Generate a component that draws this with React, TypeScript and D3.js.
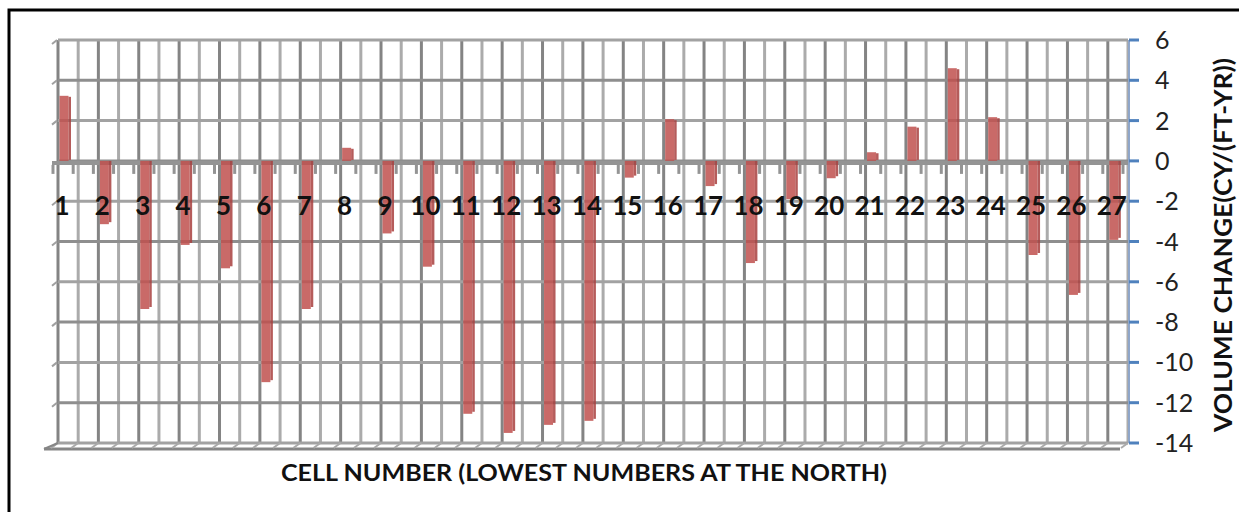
import React, { useEffect, useRef } from 'react';
import * as d3 from 'd3';

// cell numbers along the bottom (lowest numbers at the north)
const cells = ['1', '2', '3', '4', '5', '6', '7', '8', '9', '10', '11', '12', '13', '14',
  '15', '16', '17', '18', '19', '20', '21', '22', '23', '24', '25', '26', '27'];

// volume change cy/(ft-yr)
const volumeChange = [3.23, -3.14, -7.35, -4.17, -5.33, -10.98, -7.35, 0.65, -3.6, -5.25,
  -12.55, -13.5, -13.1, -12.9, -0.83, 2.07, -1.25, -5.07, -1.9, -0.86,
  0.43, 1.7, 4.6, 2.17, -4.67, -6.65, -3.92];

const yTicks = [6, 4, 2, 0, -2, -4, -6, -8, -10, -12, -14];

const W = 1239;
const H = 512;
const FONT = "Lato, 'Open Sans', sans-serif";

export default function App() {
  const ref = useRef<SVGSVGElement>(null);

  useEffect(() => {
    const svg = d3.select(ref.current);
    svg.selectAll('*').remove();

    const left = 58, right = 1128, top = 40, bottom = 443;
    const step = (right - left) / 26.5; // last column sits partly behind the back wall

    const x = d3.scaleBand<string>().domain(cells).range([left, left + step * cells.length]);
    const y = d3.scaleLinear().domain([-14, 6]).range([bottom, top]);
    const bw = x.bandwidth();

    svg.append('rect').attr('width', W).attr('height', H).attr('fill', '#fff');
    // outer frame
    svg.append('rect')
      .attr('x', 9).attr('y', 10).attr('width', W + 10).attr('height', H + 10)
      .attr('fill', 'none').attr('stroke', '#000').attr('stroke-width', 3);

    // vertical grid: dark at each cell, light halfway
    const vlines: { x: number; dark: boolean }[] = [];
    cells.forEach((c) => {
      vlines.push({ x: x(c)!, dark: true });
      if (x(c)! + bw / 2 <= right + 1) vlines.push({ x: x(c)! + bw / 2, dark: false });
    });
    svg.append('g').selectAll('line').data(vlines).enter().append('line')
      .attr('x1', (d) => d.x).attr('x2', (d) => d.x)
      .attr('y1', top).attr('y2', bottom)
      .attr('stroke', (d) => (d.dark ? '#848484' : '#ababab'))
      .attr('stroke-width', 3);

    // horizontal grid
    svg.append('g').selectAll('line').data(yTicks).enter().append('line')
      .attr('x1', left).attr('x2', right)
      .attr('y1', (d) => y(d)).attr('y2', (d) => y(d))
      .attr('stroke', (d, i) => (i % 2 ? '#8e8e8e' : '#a2a2a2'))
      .attr('stroke-width', 3);

    // little slanted ticks on the left edge
    svg.append('g').selectAll('line').data(yTicks.filter((t) => t !== 0)).enter().append('line')
      .attr('x1', left - 6).attr('x2', left - 1)
      .attr('y1', (d) => y(d) + 4).attr('y2', (d) => y(d))
      .attr('stroke', '#a0a0a0').attr('stroke-width', 2);

    // floor
    svg.append('line').attr('x1', left - 14).attr('x2', right - 8)
      .attr('y1', bottom + 6).attr('y2', bottom + 6)
      .attr('stroke', '#868686').attr('stroke-width', 3);
    svg.append('g').selectAll('line').data(vlines).enter().append('line')
      .attr('x1', (d) => d.x).attr('x2', (d) => d.x - 7)
      .attr('y1', bottom).attr('y2', bottom + 5)
      .attr('stroke', '#aaa').attr('stroke-width', 2);
    svg.append('line').attr('x1', left - 14).attr('x2', left)
      .attr('y1', bottom + 6).attr('y2', bottom)
      .attr('stroke', '#868686').attr('stroke-width', 2);

    // category axis at zero
    const y0 = y(0);
    svg.append('line').attr('x1', left - 6).attr('x2', right)
      .attr('y1', y0 + 2).attr('y2', y0 + 2)
      .attr('stroke', '#949494').attr('stroke-width', 4);
    svg.append('g').selectAll('line').data(vlines).enter().append('line')
      .attr('x1', (d) => d.x - 5).attr('x2', (d) => d.x - 5)
      .attr('y1', y0 + 4).attr('y2', y0 + 13)
      .attr('stroke', '#949494').attr('stroke-width', 3);

    // bars (3d-ish: front face + darker side)
    const bars = svg.append('g').selectAll('g').data(volumeChange).enter().append('g');
    bars.append('rect')
      .attr('x', (_, i) => x(cells[i])! + 1.5)
      .attr('width', 9)
      .attr('y', (d) => Math.min(y(d), y0))
      .attr('height', (d) => Math.abs(y(d) - y0))
      .attr('fill', '#c0504d').attr('fill-opacity', 0.85);
    bars.append('rect')
      .attr('x', (_, i) => x(cells[i])! + 10.5)
      .attr('width', 2.5)
      .attr('y', (d) => (d >= 0 ? y(d) + 1 : y0))
      .attr('height', (d) => Math.max(0, Math.abs(y(d) - y0) - 2))
      .attr('fill', '#a8403e').attr('fill-opacity', 0.85);

    // category labels
    svg.append('g').selectAll('text').data(cells).enter().append('text')
      .attr('x', (c) => x(c)! + 4)
      .attr('y', 215)
      .attr('text-anchor', 'middle')
      .style('font-family', FONT).style('font-weight', 700).style('font-size', '26px')
      .style('fill', '#111')
      .text((c) => c);

    // right value axis
    svg.append('line').attr('x1', right + 1).attr('x2', right + 1)
      .attr('y1', top).attr('y2', bottom)
      .attr('stroke', '#8fa6c9').attr('stroke-width', 2);
    svg.append('g').selectAll('line').data(yTicks).enter().append('line')
      .attr('x1', right + 1).attr('x2', right + 11)
      .attr('y1', (d) => y(d)).attr('y2', (d) => y(d))
      .attr('stroke', '#4f81bd').attr('stroke-width', 3);
    svg.append('g').selectAll('text').data(yTicks).enter().append('text')
      .attr('x', 1155)
      .attr('y', (d) => y(d))
      .attr('dy', '0.36em')
      .style('font-family', FONT).style('font-size', '25px').style('fill', '#222')
      .text((d) => d3.format('d')(d).replace('−', '-'));

    // titles
    svg.append('text')
      .attr('x', 584).attr('y', 481)
      .attr('text-anchor', 'middle')
      .attr('textLength', 606).attr('lengthAdjust', 'spacingAndGlyphs')
      .style('font-family', FONT).style('font-weight', 700).style('font-size', '23px')
      .style('fill', '#111')
      .text('CELL NUMBER (LOWEST NUMBERS AT THE NORTH)');
    svg.append('text')
      .attr('transform', 'translate(1232,245) rotate(-90)')
      .attr('text-anchor', 'middle')
      .attr('textLength', 374).attr('lengthAdjust', 'spacingAndGlyphs')
      .style('font-family', FONT).style('font-weight', 700).style('font-size', '24px')
      .style('fill', '#111')
      .text('VOLUME CHANGE(CY/(FT-YR))');
  }, []);

  return (
    <svg ref={ref} width={W} height={H}
      style={{ position: 'absolute', left: 0, top: 0, display: 'block' }} />
  );
}
